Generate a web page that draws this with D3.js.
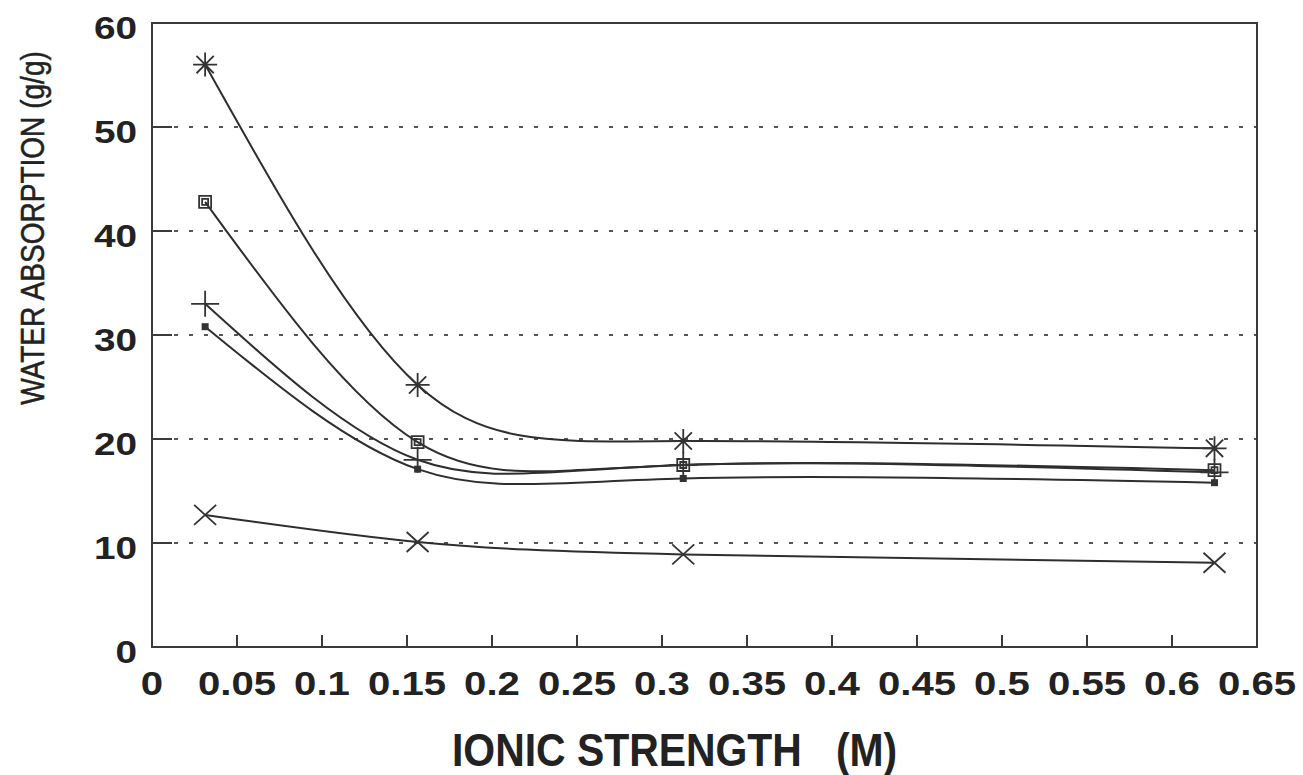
<!DOCTYPE html>
<meta charset="utf-8">
<title>Water absorption vs ionic strength</title>
<style>
body { margin: 0; background: #fff; }
svg { display: block; }
text { font-family: "Liberation Sans", Arial, Helvetica, sans-serif; fill: #222; }
.tick-label { font-weight: bold; }
.frame { fill: none; stroke: #3a3a3a; stroke-width: 2; }
.grid { stroke: #555; stroke-width: 2.2; stroke-dasharray: 4 11; }
.tick { stroke: #3a3a3a; stroke-width: 2; }
.curve { fill: none; stroke: #2e2e2e; stroke-width: 2; }
.mark { fill: none; stroke: #333; stroke-width: 1.8; }
</style>
<body>
<script src="https://cdn.jsdelivr.net/npm/d3@7"></script>
<script>

var ionic = [0.03125, 0.15625, 0.3125, 0.625];

var seriesStar   = [56.0, 25.2, 19.8, 19.1];
var seriesSquare = [42.8, 19.7, 17.5, 17.0];
var seriesPlus   = [33.0, 18.0, 17.5, 16.8];
var seriesDot    = [30.8, 17.1, 16.2, 15.8];
var seriesCross  = [12.7, 10.1, 8.9, 8.1];

var xTicks = [0, 0.05, 0.1, 0.15, 0.2, 0.25, 0.3, 0.35, 0.4, 0.45, 0.5, 0.55, 0.6, 0.65];
var yTicks = [0, 10, 20, 30, 40, 50, 60];
var yGrid = [10, 20, 30, 40, 50];

var W = 1303, H = 775;

var svg = d3.select('body').append('svg').attr('width', W).attr('height', H);

var x = d3.scaleLinear().domain([0, 0.65]).range([152, 1257]),
    y = d3.scaleLinear().domain([0, 60]).range([647, 23]);

// dotted grid, short solid stubs on the left edge
svg.selectAll('line.grid').data(yGrid).enter().append('line')
    .attr('class', 'grid')
    .attr('x1', x(0) + 22).attr('x2', x(0.65))
    .attr('y1', y).attr('y2', y);

svg.selectAll('line.ytick').data(yGrid).enter().append('line')
    .attr('class', 'tick')
    .attr('x1', x(0)).attr('x2', x(0) + 20)
    .attr('y1', y).attr('y2', y);

svg.selectAll('line.xtick').data(xTicks.slice(1, -1)).enter().append('line')
    .attr('class', 'tick')
    .attr('x1', x).attr('x2', x)
    .attr('y1', y(0)).attr('y2', y(0) - 12);

svg.append('rect').attr('class', 'frame')
    .attr('x', x(0)).attr('y', y(60))
    .attr('width', x(0.65) - x(0)).attr('height', y(0) - y(60));

// tick labels
svg.selectAll('text.xl').data(xTicks).enter().append('text')
    .attr('class', 'tick-label')
    .attr('text-anchor', 'middle')
    .attr('font-size', 34)
    .attr('transform', function(d){ return 'translate(' + x(d) + ',695) scale(1.18,1)' })
    .text(function(d){ return d === 0 ? '0' : String(d) });

svg.selectAll('text.yl').data(yTicks).enter().append('text')
    .attr('class', 'tick-label')
    .attr('text-anchor', 'end')
    .attr('font-size', 31)
    .attr('transform', function(d){ return 'translate(137,' + (y(d) + 16) + ') scale(1.25,1)' })
    .text(function(d){ return d });

// axis titles
svg.append('text')
    .attr('font-size', 47).attr('font-weight', 'bold')
    .style('white-space', 'pre')
    .attr('transform', 'translate(452,766) scale(0.87,1)')
    .text('IONIC STRENGTH   (M)');

svg.append('text')
    .attr('font-size', 33)
    .attr('text-anchor', 'middle')
    .style('stroke', '#222').style('stroke-width', 0.5)
    .attr('transform', 'translate(44,228) rotate(-90) scale(0.85,1)')
    .text('WATER ABSORPTION (g/g)');

// curves
var line = d3.line()
    .x(function(d, i){ return x(ionic[i]) })
    .y(function(d){ return y(d) })
    .curve(d3.curveNatural);

var all = [
  {values: seriesStar, mark: 'star'},
  {values: seriesSquare, mark: 'square'},
  {values: seriesPlus, mark: 'plus'},
  {values: seriesDot, mark: 'dot'},
  {values: seriesCross, mark: 'cross'}
];

svg.selectAll('path.curve').data(all).enter().append('path')
    .attr('class', 'curve')
    .attr('d', function(d){ return line(d.values) });

var markPath = {
  star: function(){
    var r = 12, s = r * 0.72;
    return 'M' + (-s) + ',' + (-s) + 'L' + s + ',' + s +
           'M' + (-s) + ',' + s + 'L' + s + ',' + (-s) +
           'M0,' + (-r) + 'L0,' + r +
           'M' + (-r) + ',0L' + r + ',0';
  },
  square: function(){ return 'M-6,-6H6V6H-6Z M-3,-3H3V3H-3Z' },
  plus: function(){ return 'M-14,0H14M0,-13V13' },
  cross: function(){ return 'M-11,-10L11,10M-11,10L11,-10' }
};

all.forEach(function(s){
  var g = svg.append('g');
  s.values.forEach(function(v, i){
    if (s.mark === 'dot') {
      g.append('rect')
          .attr('x', x(ionic[i]) - 3.5).attr('y', y(v) - 3.5)
          .attr('width', 7).attr('height', 7)
          .attr('fill', '#333');
    } else {
      g.append('path')
          .attr('class', 'mark')
          .attr('transform', 'translate(' + x(ionic[i]) + ',' + y(v) + ')')
          .attr('fill', s.mark === 'square' ? '#fff' : 'none')
          .attr('d', markPath[s.mark]());
    }
  });
});

</script>
</body>
